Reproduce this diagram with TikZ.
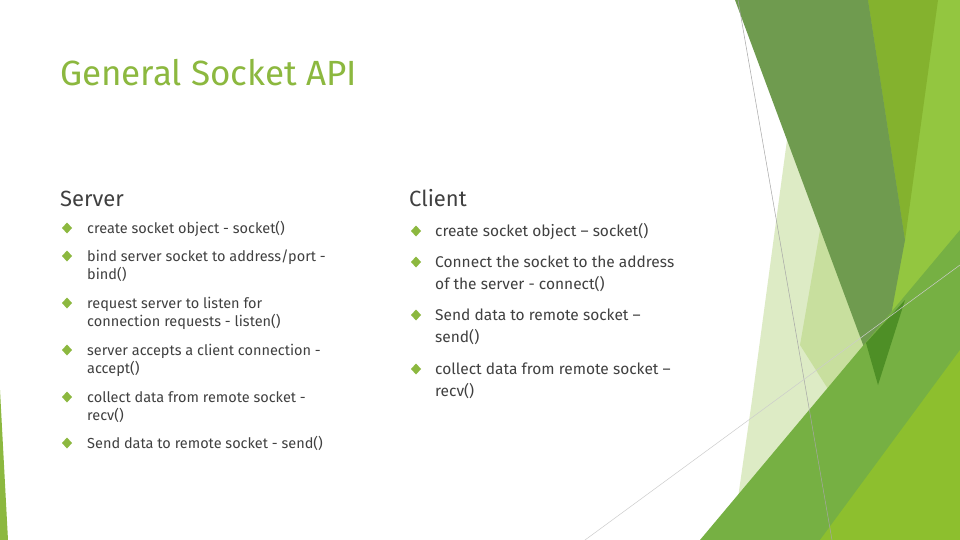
\documentclass[tikz,border=0pt]{standalone}
\usepackage{fontspec}
\setmainfont{Fira Sans}
\definecolor{ttl}{HTML}{8CB83F}
\definecolor{txt}{HTML}{404040}
\definecolor{dkg}{HTML}{6F9B4F}
\definecolor{lime}{HTML}{84B22E}
\definecolor{lgt}{HTML}{93C640}
\definecolor{pale}{HTML}{DDEBC5}
\definecolor{mid}{HTML}{C8DF9E}
\definecolor{grn}{HTML}{76B043}
\definecolor{lim2}{HTML}{8DBF2E}
\definecolor{deep}{HTML}{4E8F26}
\tikzset{
  line/.style={anchor=base west,inner sep=0pt,text=txt,font=\fontsize{14.5}{17}\selectfont},
  cline/.style={anchor=base west,inner sep=0pt,text=txt,font=\fontsize{15.5}{18}\selectfont},
  hdr/.style={anchor=base west,inner sep=0pt,text=txt,font=\fontsize{22}{26}\selectfont},
}
\newcommand{\bul}[2]{\fill[ttl] (#1-5,#2) -- (#1,#2-5.5) -- (#1+5,#2) -- (#1,#2+5.5) -- cycle;}
\begin{document}
\begin{tikzpicture}[x=1pt,y=-1pt]
\useasboundingbox (0,0) rectangle (960,540);
\fill[white] (0,0) rectangle (960,540);
% decoration
\fill[lgt] (868,0) -- (960,0) -- (960,540) -- (810,540) -- (875,400) -- cycle;
\fill[lime] (868,0) -- (938,0) -- (905,240) -- cycle;
\fill[pale] (787,140) -- (870,330) -- (900,345) -- (820,450) -- (737,505) -- (752,400) -- cycle;
\fill[mid] (820,230) -- (875,330) -- (835,400) -- (800,345) -- cycle;
\fill[dkg] (735,0) -- (868,0) -- (905,240) -- (878,385) -- cycle;
\fill[grn] (700,540) -- (893,310) -- (960,230) -- (960,540) -- cycle;
\fill[lim2] (820,540) -- (960,350) -- (960,540) -- cycle;
\fill[deep] (866,343) -- (905,300) -- (878,385) -- cycle;
\fill[ttl] (0,390) -- (8,540) -- (0,540) -- cycle;
\draw[gray!70,line width=0.5pt] (738,0) -- (832,540);
\draw[gray!40,line width=0.5pt] (585,540) -- (960,265);
% title
\node[anchor=base west,inner sep=0pt,text=ttl,font=\fontsize{35}{40}\selectfont] (title) at (60,86) {General Socket API};
\node[hdr] (srv) at (60,206) {Server};
\node[hdr] (cli) at (409,206) {Client};
% server
\bul{67}{228}\node[line] (s1) at (87,233) {create socket object - socket()};
\bul{67}{256}\node[line] (s2a) at (87,261) {bind server socket to address/port -};
\node[line] (s2b) at (87,279) {bind()};
\bul{67}{303}\node[line] (s3a) at (87,308) {request server to listen for};
\node[line] (s3b) at (87,326) {connection requests - listen()};
\bul{67}{350}\node[line] (s4a) at (87,355) {server accepts a client connection -};
\node[line] (s4b) at (87,373) {accept()};
\bul{67}{397}\node[line] (s5a) at (87,402) {collect data from remote socket -};
\node[line] (s5b) at (87,420) {recv()};
\bul{67}{443}\node[line] (s6) at (87,448) {Send data to remote socket - send()};
% client
\bul{416}{231}\node[cline] (c1) at (435,236) {create socket object – socket()};
\bul{416}{262}\node[cline] (c2a) at (435,267) {Connect the socket to the address};
\node[cline] (c2b) at (435,289) {of the server - connect()};
\bul{416}{315}\node[cline] (c3a) at (435,320) {Send data to remote socket –};
\node[cline] (c3b) at (435,342) {send()};
\bul{416}{369}\node[cline] (c4a) at (435,374) {collect data from remote socket –};
\node[cline] (c4b) at (435,396) {recv()};
\end{tikzpicture}
\end{document}
